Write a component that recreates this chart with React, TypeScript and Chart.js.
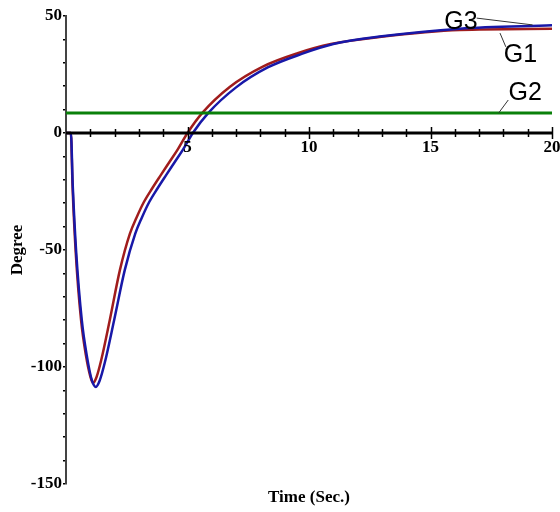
import React, { useEffect, useRef } from "react";
import { Chart, registerables } from "chart.js";

Chart.register(...registerables);

// G1 (red) response
const timeG1 = [0, 0.2, 0.27, 0.4, 0.62, 0.82, 1.0, 1.11, 1.25, 1.45, 1.8, 2.22, 2.63, 2.9, 3.2, 3.55, 3.9, 4.25, 4.6, 5.0, 5.6, 6.75, 8.1, 9.5, 10.9, 12.9, 16.2, 20];
const degreeG1 = [0, 0, -23, -51, -80, -95, -104, -106.8, -104.5, -97, -80, -58.5, -43, -36.2, -29.6, -23.6, -18, -12.5, -7, 0, 8.5, 19.8, 28.4, 34, 38, 41, 44, 44.5];

// G3 (blue) response
const timeG3 = [0, 0.2, 0.28, 0.42, 0.65, 0.87, 1.06, 1.23, 1.38, 1.6, 1.98, 2.42, 2.85, 3.12, 3.42, 3.77, 4.12, 4.47, 4.82, 5.22, 5.85, 7.0, 8.3, 9.7, 11, 13, 16.2, 20];
const degreeG3 = [0, 0, -23, -51, -80, -96, -105.5, -108.5, -106, -98, -80, -58.5, -43, -36.2, -29.6, -23.6, -18, -12.5, -7, 0, 8.5, 19.5, 28, 33.8, 38, 41.3, 44.6, 46];

// G2 (green) constant reference
const timeG2 = [0, 20];
const degreeG2 = [8.5, 8.5];

const xMin = 0;
const xMax = 20;
const yMin = -150;
const yMax = 50;
const xLabelValues = [5, 10, 15, 20];
const yLabelValues = [50, 0, -50, -100, -150];

const xTitle = "Time (Sec.)";
const yTitle = "Degree";

// annotation labels and leader lines (data coordinates)
const annotationText = ["G3", "G1", "G2"];
const annotationLabelT = [16.25, 18.7, 18.9];
const annotationLabelV = [47.4, 33.3, 16.9];
const annotationLineT1 = [16.9, 17.86, 18.2];
const annotationLineV1 = [49.1, 42.7, 14.1];
const annotationLineT2 = [19.2, 18.1, 17.8];
const annotationLineV2 = [46.2, 36.8, 8.5];

const toPoints = (xs: number[], ys: number[]) => xs.map((x, i) => ({ x, y: ys[i] }));

const SERIF = "'Liberation Serif', 'Times New Roman', serif";
const SANS = "'Liberation Sans', Arial, sans-serif";

const overlayPlugin = {
  id: "overlay",
  afterDraw(chart: any) {
    const { ctx, chartArea } = chart;
    const xs = chart.scales.x;
    const ys = chart.scales.y;
    const y0 = ys.getPixelForValue(0);
    ctx.save();
    // x axis line at y = 0
    ctx.strokeStyle = "#000";
    ctx.lineWidth = 3;
    ctx.beginPath();
    ctx.moveTo(chartArea.left, y0);
    ctx.lineTo(chartArea.right, y0);
    ctx.stroke();
    // x tick marks crossing the axis
    ctx.lineWidth = 1.5;
    for (let t = xMin + 1; t <= xMax; t++) {
      const px = Math.round(xs.getPixelForValue(t)) + 0.5;
      const h = t % 5 === 0 ? 6 : 4;
      ctx.beginPath();
      ctx.moveTo(px, y0 - h);
      ctx.lineTo(px, y0 + h);
      ctx.stroke();
    }
    // x tick labels
    ctx.fillStyle = "#000";
    ctx.font = `bold 17px ${SERIF}`;
    ctx.textAlign = "center";
    ctx.textBaseline = "middle";
    xLabelValues.forEach((v) => {
      ctx.fillText(String(v), xs.getPixelForValue(v), y0 + 15);
    });
    // axis titles
    ctx.fillText(xTitle, (chartArea.left + chartArea.right) / 2, 498);
    ctx.save();
    ctx.translate(18, (chartArea.top + chartArea.bottom) / 2);
    ctx.rotate(-Math.PI / 2);
    ctx.fillText(yTitle, 0, 0);
    ctx.restore();
    // annotations
    ctx.strokeStyle = "#333";
    ctx.lineWidth = 1;
    annotationText.forEach((_txt, i) => {
      ctx.beginPath();
      ctx.moveTo(xs.getPixelForValue(annotationLineT1[i]), ys.getPixelForValue(annotationLineV1[i]));
      ctx.lineTo(xs.getPixelForValue(annotationLineT2[i]), ys.getPixelForValue(annotationLineV2[i]));
      ctx.stroke();
    });
    ctx.font = `25px ${SANS}`;
    ctx.fillStyle = "#000";
    annotationText.forEach((txt, i) => {
      ctx.fillText(txt, xs.getPixelForValue(annotationLabelT[i]), ys.getPixelForValue(annotationLabelV[i]));
    });
    ctx.restore();
  },
};

export default function App() {
  const canvasRef = useRef<HTMLCanvasElement | null>(null);

  useEffect(() => {
    if (!canvasRef.current) return;
    const chart = new Chart(canvasRef.current, {
      type: "line",
      data: {
        datasets: [
          {
            label: "G2",
            data: toPoints(timeG2, degreeG2),
            borderColor: "#0a800a",
            borderWidth: 3,
            pointRadius: 0,
          },
          {
            label: "G3",
            data: toPoints(timeG3, degreeG3),
            borderColor: "#1818a8",
            borderWidth: 2.5,
            pointRadius: 0,
            cubicInterpolationMode: "monotone",
          },
          {
            label: "G1",
            data: toPoints(timeG1, degreeG1),
            borderColor: "#a01c1c",
            borderWidth: 2.5,
            pointRadius: 0,
            cubicInterpolationMode: "monotone",
          },
        ],
      },
      options: {
        animation: false,
        responsive: false,
        layout: { padding: { left: 0, top: 16, right: 8, bottom: 28 } },
        plugins: { legend: { display: false }, tooltip: { enabled: false } },
        scales: {
          x: {
            type: "linear",
            min: xMin,
            max: xMax,
            position: { y: 0 } as any,
            grid: { display: false },
            border: { display: false },
            ticks: { display: false, stepSize: 1 },
            afterFit: (scale: any) => {
              scale.paddingLeft = 0;
              scale.paddingRight = 0;
            },
          },
          y: {
            type: "linear",
            min: yMin,
            max: yMax,
            position: "left",
            grid: { drawOnChartArea: false, drawTicks: true, tickLength: 3, color: "#000", lineWidth: 1.5 },
            border: { display: true, color: "#444", width: 2 },
            ticks: {
              stepSize: 10,
              autoSkip: false,
              padding: 1,
              color: "#000",
              font: { family: SERIF, size: 17, weight: "bold" },
              callback: (v: any) => (yLabelValues.includes(Number(v)) ? String(v) : ""),
            },
            afterFit: (scale: any) => {
              scale.width = 66;
            },
          },
        },
      },
      plugins: [overlayPlugin],
    } as any);
    return () => chart.destroy();
  }, []);

  return (
    <div style={{ position: "fixed", left: 0, top: 0, width: 560, height: 512, background: "#fff" }}>
      <canvas ref={canvasRef} width={560} height={512} />
    </div>
  );
}
